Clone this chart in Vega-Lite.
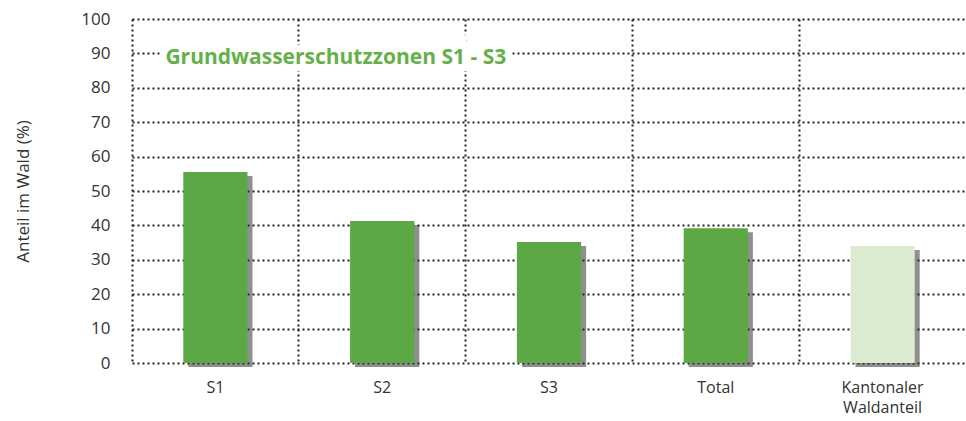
{
  "$schema": "https://vega.github.io/schema/vega-lite/v6.json",
  "autosize": {"type": "none"},
  "padding": {"left": 132, "top": 19, "right": 0, "bottom": 58},
  "width": 834,
  "height": 344,
  "background": "white",
  "config": {
    "view": {"stroke": null},
    "font": "Open Sans"
  },
  "data": {"values": [
    {"cat": "S1", "value": 55.5, "type": "zone"},
    {"cat": "S2", "value": 41.3, "type": "zone"},
    {"cat": "S3", "value": 35.2, "type": "zone"},
    {"cat": "Total", "value": 39.2, "type": "zone"},
    {"cat": "Kantonaler Waldanteil", "value": 34.0, "type": "kanton"}
  ]},
  "encoding": {
    "x": {
      "field": "cat", "type": "nominal", "sort": null,
      "scale": {"paddingInner": 0, "paddingOuter": 0},
      "axis": {
        "title": null, "grid": true, "bandPosition": 0,
        "gridDash": [2, 3], "gridColor": "#222", "gridWidth": 2,
        "domain": false, "ticks": false,
        "labelAngle": 0, "labelPadding": 16, "labelFontSize": 16,
        "labelColor": "#333", "labelFont": "Open Sans", "labelLineHeight": 20,
        "labelExpr": "split(datum.label, ' ')"
      }
    },
    "y": {
      "field": "value", "type": "quantitative",
      "scale": {"domain": [0, 100], "nice": false},
      "axis": {
        "title": "Anteil im Wald (%)", "values": [0,10,20,30,40,50,60,70,80,90,100],
        "grid": true, "gridDash": [2, 3], "gridColor": "#222", "gridWidth": 2,
        "domain": false, "ticks": false, "labelPadding": 22,
        "labelFontSize": 17, "labelColor": "#333", "labelFont": "Open Sans",
        "titleFontSize": 17, "titleFontWeight": "normal", "titleColor": "#333",
        "titleFont": "Open Sans", "titleX": -109, "titleBaseline": "middle"
      }
    }
  },
  "layer": [
    {
      "mark": {"type": "bar", "width": {"band": 0.385}, "color": "#333", "opacity": 0.55, "xOffset": 5, "yOffset": 4}
    },
    {
      "mark": {"type": "bar", "width": {"band": 0.385}},
      "encoding": {
        "color": {
          "field": "type", "type": "nominal", "legend": null,
          "scale": {"domain": ["zone", "kanton"], "range": ["#5ca845", "#dbebd1"]}
        }
      }
    },
    {
      "data": {"values": [{"cat": "S1", "value": 90, "t": "Grundwasserschutzzonen S1 - S3"}]},
      "mark": {"type": "text", "align": "left", "baseline": "middle", "fontWeight": "bold", "fontSize": 21, "font": "Open Sans", "stroke": "white", "strokeWidth": 14, "fill": "white", "xOffset": -50, "yOffset": 5},
      "encoding": {"text": {"field": "t"}}
    },
    {
      "data": {"values": [{"cat": "S1", "value": 90, "t": "Grundwasserschutzzonen S1 - S3"}]},
      "mark": {"type": "text", "align": "left", "baseline": "middle", "fontWeight": "bold", "fontSize": 21, "font": "Open Sans", "fill": "#66b04a", "xOffset": -50, "yOffset": 5},
      "encoding": {"text": {"field": "t"}}
    }
  ]
}
